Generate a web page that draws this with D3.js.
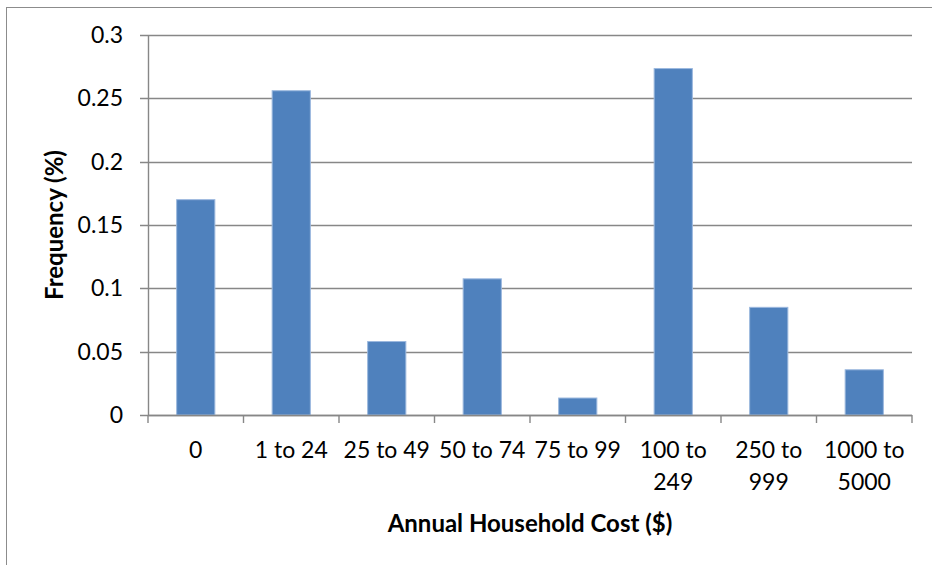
<!DOCTYPE html>
<html>
<head>
<meta charset="utf-8">
<script src="https://cdn.jsdelivr.net/npm/d3@7/dist/d3.min.js"></script>
<style>
  html, body { margin: 0; padding: 0; background: #fff; }
  svg { display: block; font-family: Lato, "Open Sans", sans-serif; }
</style>
</head>
<body>
<svg id="chart" width="932" height="565"></svg>
<script>
// Household cost bands and their share of households
const categories = ["0", "1 to 24", "25 to 49", "50 to 74", "75 to 99", "100 to 249", "250 to 999", "1000 to 5000"];
const frequency = [0.170, 0.256, 0.058, 0.1075, 0.0134, 0.2735, 0.085, 0.0357];
const yTicks = [0, 0.05, 0.1, 0.15, 0.2, 0.25, 0.3];
const xTitle = "Annual Household Cost ($)";
const yTitle = "Frequency (%)";

const svg = d3.select("#chart");
const plot = { left: 148, right: 912, top: 35, bottom: 415 };
const gray = "#878787";

// Chart area frame
svg.append("rect")
  .attr("x", 6.5).attr("y", 7.5)
  .attr("width", 940).attr("height", 580)
  .attr("fill", "#fff").attr("stroke", "#8c8c8c").attr("stroke-width", 1);

const y = d3.scaleLinear().domain([0, 0.3]).range([plot.bottom, plot.top]);
const xCat = d3.scaleBand().domain(categories).range([plot.left, plot.right]).padding(0);
const xBar = d3.scaleBand().domain(categories).range([plot.left, plot.right])
  .paddingInner(0.6).paddingOuter(0.3);

// Horizontal gridlines with short outward ticks
svg.append("g")
  .selectAll("line")
  .data(yTicks)
  .join("line")
  .attr("x1", plot.left - 8).attr("x2", plot.right)
  .attr("y1", d => Math.round(y(d)) + 0.5).attr("y2", d => Math.round(y(d)) + 0.5)
  .attr("stroke", gray).attr("stroke-width", 1.4);

// Y axis labels
const yAxis = d3.axisLeft(y).tickValues(yTicks).tickSize(0).tickPadding(25)
  .tickFormat(d => String(d));
const gy = svg.append("g").attr("transform", `translate(${plot.left},0)`).call(yAxis);
gy.select(".domain").remove();
gy.selectAll("text")
  .attr("font-size", 23).attr("fill", "#000")
  .attr("font-family", "Lato, sans-serif");

// Y axis line
svg.append("line")
  .attr("x1", plot.left + 0.5).attr("x2", plot.left + 0.5)
  .attr("y1", plot.top).attr("y2", plot.bottom)
  .attr("stroke", gray).attr("stroke-width", 1.4);

// Bars
svg.append("g")
  .selectAll("rect")
  .data(categories.map((c, i) => ({ c, v: frequency[i] })))
  .join("rect")
  .attr("x", d => xBar(d.c))
  .attr("width", xBar.bandwidth())
  .attr("y", d => y(d.v))
  .attr("height", d => y(0) - y(d.v))
  .attr("fill", "#4f81bd")
  .attr("stroke", "#9bb8de").attr("stroke-width", 1);

// X axis baseline and category separators
svg.append("line")
  .attr("x1", plot.left).attr("x2", plot.right)
  .attr("y1", Math.round(y(0)) + 0.5).attr("y2", Math.round(y(0)) + 0.5)
  .attr("stroke", gray).attr("stroke-width", 1.4);
const bounds = categories.map(c => xCat(c)).concat([plot.right]);
svg.append("g")
  .selectAll("line")
  .data(bounds)
  .join("line")
  .attr("x1", d => d).attr("x2", d => d)
  .attr("y1", plot.bottom).attr("y2", plot.bottom + 8)
  .attr("stroke", gray).attr("stroke-width", 1.4);

// Category labels, long ones wrapped before the last word
const xLabels = svg.append("g");
categories.forEach(c => {
  const lines = c.length > 8 ? [c.slice(0, c.lastIndexOf(" ")), c.slice(c.lastIndexOf(" ") + 1)] : [c];
  const t = xLabels.append("text")
    .attr("text-anchor", "middle")
    .attr("font-size", 23).attr("fill", "#000");
  lines.forEach((ln, k) => {
    t.append("tspan")
      .attr("x", xCat(c) + xCat.bandwidth() / 2)
      .attr("y", 458 + k * 31.5)
      .text(ln);
  });
});

// Axis titles
svg.append("text")
  .attr("x", 530).attr("y", 532)
  .attr("text-anchor", "middle")
  .attr("font-size", 24).attr("font-weight", "bold").attr("fill", "#000")
  .text(xTitle);

svg.append("text")
  .attr("transform", "translate(63,225) rotate(-90)")
  .attr("text-anchor", "middle")
  .attr("font-size", 24).attr("font-weight", "bold").attr("fill", "#000")
  .text(yTitle);
</script>
</body>
</html>
